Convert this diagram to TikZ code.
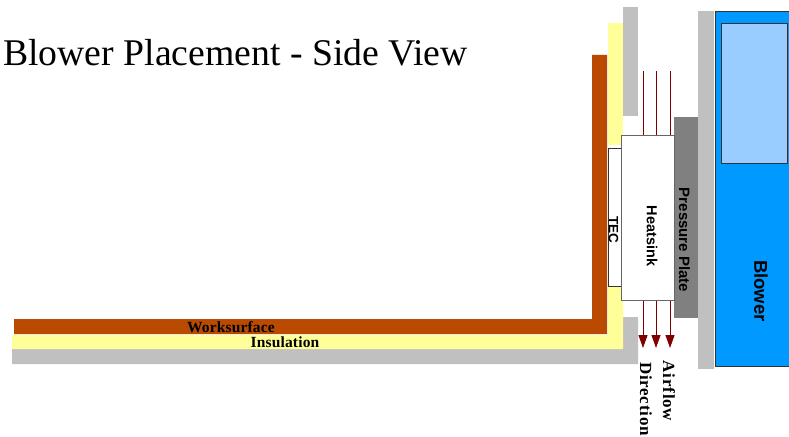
\documentclass[tikz,border=0pt]{standalone}
\usepackage{fontspec}
\setmainfont{Liberation Serif}
\setsansfont{Liberation Sans}
\newfontfamily\spacedserif[LetterSpace=1]{Liberation Serif}
\newfontfamily\widerserif[LetterSpace=4.4]{Liberation Serif}
\usetikzlibrary{arrows.meta}
\definecolor{wsbrown}{HTML}{B94A00}
\definecolor{insyellow}{HTML}{FFFF99}
\definecolor{plategray}{HTML}{C0C0C0}
\definecolor{pressgray}{HTML}{808080}
\definecolor{blowerblue}{HTML}{0099FF}
\definecolor{lightblue}{HTML}{99CCFF}
\definecolor{airred}{HTML}{800000}
\tikzset{
  x=1pt,y=-1pt,
  band/.style={draw=none,fill=#1},
  block/.style={draw=#1,line width=0.9pt,inner sep=0pt,anchor=north west},
  vlabel/.style={rotate=-90,inner sep=0pt},
  slabel/.style={inner sep=0pt,font=\spacedserif\bfseries\fontsize{15.5}{16}\selectfont},
  flow/.style={airred,line width=1pt,-{Triangle[length=13pt,width=9pt]}},
}
\begin{document}
\begin{tikzpicture}
\useasboundingbox (0,0) rectangle (789,436);
% insulation back plate (gray)
\fill[band=plategray] (12,349) -- (623,349) -- (623,317) -- (638,317) -- (638,364) -- (12,364) -- cycle;
\fill[band=plategray] (623,7) rectangle (638,116);
% yellow insulation
\fill[band=insyellow] (12,335) -- (608,335) -- (608,287) -- (623,287) -- (623,349) -- (12,349) -- cycle;
\fill[band=insyellow] (608,23) rectangle (623,145);
% worksurface
\fill[band=wsbrown] (14,319) -- (592,319) -- (592,55) -- (607,55) -- (607,334) -- (14,334) -- cycle;
% airflow arrows run behind the heatsink
\coordinate (a1) at (643,71); \coordinate (b1) at (643,348);
\coordinate (a2) at (656,71); \coordinate (b2) at (656,348);
\coordinate (a3) at (670,71); \coordinate (b3) at (670,348);
\draw[flow] (a1) -- (b1);
\draw[flow] (a2) -- (b2);
\draw[flow] (a3) -- (b3);
% plates and blocks
\node[band=pressgray,minimum width=24pt,minimum height=201pt,inner sep=0pt,anchor=north west] (press) at (674,117) {};
\node[band=plategray,minimum width=16pt,minimum height=358pt,inner sep=0pt,anchor=north west] (plate) at (698,11) {};
\node[block=black!80,fill=white,minimum width=13pt,minimum height=138pt] (tec) at (608,148) {};
\node[block=black!60,fill=white,minimum width=53pt,minimum height=165pt] (sink) at (621,135) {};
\node[block=black!80,fill=blowerblue,minimum width=76pt,minimum height=355pt] (blower) at (715,11) {};
\node[block=black!80,fill=lightblue,minimum width=66pt,minimum height=140pt] (inner) at (721,23) {};
% labels
\node[anchor=base west,inner sep=0pt,font=\fontsize{37.7}{40}\selectfont] (title) at (3,65) {Blower Placement - Side View};
\node[slabel] (ws) at (231,327) {Worksurface};
\node[slabel] (ins) at (285,342) {Insulation};
\node[vlabel,font=\sffamily\bfseries\fontsize{13.5}{14}\selectfont] (teclabel) at (613.5,230) {TEC};
\node[vlabel,font=\sffamily\bfseries\fontsize{14.5}{15}\selectfont] (sinklabel) at (652,236) {Heatsink};
\node[vlabel,font=\sffamily\bfseries\fontsize{15}{16}\selectfont] (presslabel) at (684.5,240) {Pressure Plate};
\node[vlabel,font=\sffamily\bfseries\fontsize{18.5}{19}\selectfont] (blowerlabel) at (761,291) {Blower};
\node[vlabel,font=\widerserif\bfseries\fontsize{17}{18}\selectfont] (air) at (669,391) {Airflow};
\node[vlabel,font=\widerserif\bfseries\fontsize{17}{18}\selectfont] (dir) at (646,399) {Direction};
\end{tikzpicture}
\end{document}
